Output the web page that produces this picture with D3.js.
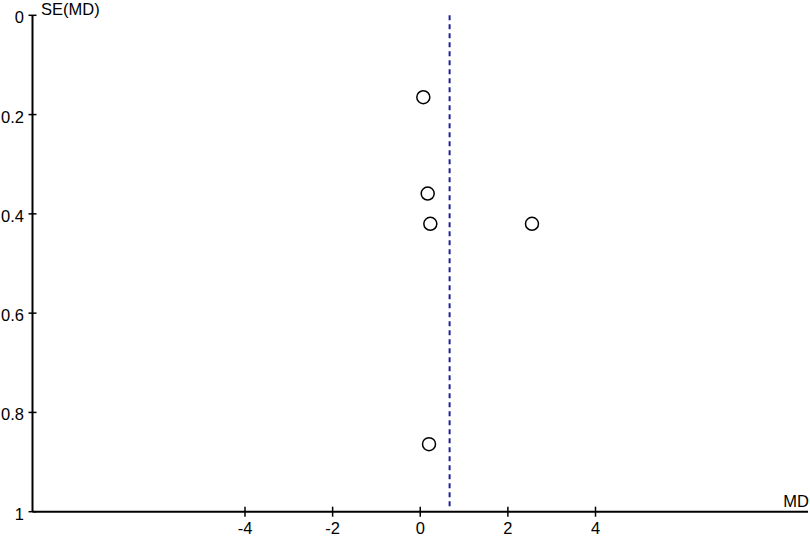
<!DOCTYPE html>
<html>
<head>
<meta charset="utf-8">
<script src="https://cdn.jsdelivr.net/npm/d3@7"></script>
<style>
  body { margin: 0; background: #fff; }
  text { font-family: "Liberation Sans", Arial, sans-serif; }
</style>
</head>
<body>
<div id="chart"></div>
<script>
(function () {
var w = 810, h = 536;

// study estimates
var md = [0.07, 0.17, 0.23, 2.55, 0.20];
var se = [0.165, 0.359, 0.42, 0.42, 0.864];
var pooled = 0.67;
var xTicks = [-4, -2, 0, 2, 4];
var yTicks = [0, 0.2, 0.4, 0.6, 0.8, 1];

var svg = d3.select("#chart").append("svg").attr("width", w).attr("height", h);

var x = d3.scaleLinear().domain([-8.85, 8.85]).range([32.5, 808]);
var y = d3.scaleLinear().domain([0, 1]).range([15.3, 511.7]);

var font = "16.5px";

// y axis
var yAxis = svg.append("g").attr("transform", "translate(" + x(-8.85) + ",0)");
yAxis.append("line")
  .attr("x1", 0).attr("x2", 0)
  .attr("y1", y(0)).attr("y2", y(1))
  .attr("stroke", "black").attr("stroke-width", 2);
yAxis.selectAll(".yt").data(yTicks).enter().append("line")
  .attr("x1", -4).attr("x2", 4)
  .attr("y1", function (d) { return y(d); })
  .attr("y2", function (d) { return y(d); })
  .attr("stroke", "black").attr("stroke-width", 1.5);
yAxis.selectAll(".yl").data(yTicks).enter().append("text")
  .attr("x", -8.5)
  .attr("y", function (d) { return y(d) + 8; })
  .attr("text-anchor", "end")
  .attr("font-size", font)
  .text(function (d) { return d; });

svg.append("text")
  .attr("x", 41).attr("y", 15)
  .attr("font-size", font)
  .text("SE(MD)");

// x axis
var xAxis = svg.append("g").attr("transform", "translate(0," + y(1) + ")");
xAxis.append("line")
  .attr("x1", x(-8.85)).attr("x2", x(8.85))
  .attr("y1", 0).attr("y2", 0)
  .attr("stroke", "black").attr("stroke-width", 2);
xAxis.selectAll(".xt").data(xTicks).enter().append("line")
  .attr("x1", function (d) { return x(d); })
  .attr("x2", function (d) { return x(d); })
  .attr("y1", -5).attr("y2", 5)
  .attr("stroke", "black").attr("stroke-width", 1.5);
xAxis.selectAll(".xl").data(xTicks).enter().append("text")
  .attr("x", function (d) { return x(d); })
  .attr("y", 22.5)
  .attr("text-anchor", "middle")
  .attr("font-size", font)
  .text(function (d) { return d; });

svg.append("text")
  .attr("x", 809).attr("y", y(1) - 4.5)
  .attr("text-anchor", "end")
  .attr("font-size", font)
  .text("MD");

// pooled estimate
svg.append("line")
  .attr("x1", x(pooled)).attr("x2", x(pooled))
  .attr("y1", y(0)).attr("y2", y(0.99))
  .attr("stroke", "#1f1f9a").attr("stroke-width", 2)
  .attr("stroke-dasharray", "5,4");

// studies
svg.selectAll(".pt").data(md).enter().append("circle")
  .attr("cx", function (d) { return x(d); })
  .attr("cy", function (d, i) { return y(se[i]); })
  .attr("r", 6.5)
  .attr("fill", "none")
  .attr("stroke", "black").attr("stroke-width", 1.5);
})();
</script>
</body>
</html>
